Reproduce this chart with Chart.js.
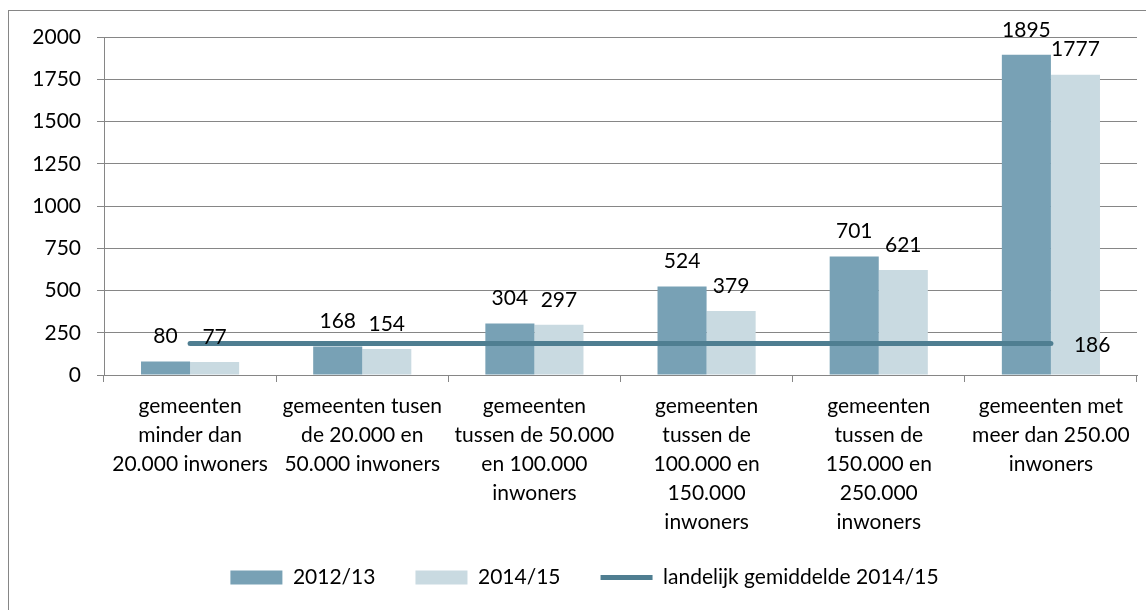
<!DOCTYPE html>
<html lang="nl">
<head>
<meta charset="utf-8">
<title>Gemeenten naar inwonertal</title>
<script src="https://cdn.jsdelivr.net/npm/chart.js@4/dist/chart.umd.min.js"></script>
<style>
  html, body { margin: 0; padding: 0; background: #fff; overflow: hidden; }
  #kader {
    position: absolute; left: 8px; top: 10px;
    width: 1200px; height: 700px;
    border: 1px solid #868686;
  }
  #grafiek { position: absolute; left: 0; top: 0; }
</style>
</head>
<body>
<div id="kader"></div>
<canvas id="grafiek" width="1146" height="610"></canvas>
<script>
// Gegevens
const categorieen = [
    ['gemeenten', 'minder dan', '20.000 inwoners'],
    ['gemeenten tusen', 'de 20.000 en', '50.000 inwoners'],
    ['gemeenten', 'tussen de 50.000', 'en 100.000', 'inwoners'],
    ['gemeenten', 'tussen de', '100.000 en', '150.000', 'inwoners'],
    ['gemeenten', 'tussen de', '150.000 en', '250.000', 'inwoners'],
    ['gemeenten met', 'meer dan 250.00', 'inwoners']
];
const waarden2012 = [80, 168, 304, 524, 701, 1895];
const waarden2014 = [77, 154, 297, 379, 621, 1777];
const landelijkGemiddelde = [186, 186, 186, 186, 186, 186];

const kleurDonker = '#78A1B5';
const kleurLicht = '#C9DAE1';
const kleurLijn = '#4F7E91';
const rasterKleur = '#868686';

Chart.defaults.font.family = 'Lato, "Liberation Sans", sans-serif';
Chart.defaults.font.size = 21;
Chart.defaults.color = '#000';

// Labels boven de staven en rechts van de lijn
const waardeLabels = {
    id: 'waardeLabels',
    afterDatasetsDraw(chart) {
        const ctx = chart.ctx;
        ctx.save();
        ctx.font = '21px Lato, "Liberation Sans", sans-serif';
        ctx.fillStyle = '#000';
        ctx.textBaseline = 'middle';
        chart.data.datasets.forEach((ds, i) => {
            const meta = chart.getDatasetMeta(i);
            if (ds.type === 'line') {
                const laatste = meta.data[meta.data.length - 1];
                ctx.textAlign = 'left';
                ctx.fillText(ds.data[ds.data.length - 1], laatste.x + 23, laatste.y + 2);
            } else {
                ctx.textAlign = 'center';
                meta.data.forEach((el, j) => {
                    ctx.fillText(ds.data[j], el.x, el.y - 25);
                });
            }
        });
        ctx.restore();
    }
};

// Legenda iets omhoog en naar rechts schuiven, zoals in het origineel
const legendaPositie = {
    id: 'legendaPositie',
    afterLayout(chart) {
        const lg = chart.legend;
        lg.top -= 12;
        lg.bottom -= 12;
        lg.left += 16;
        lg.right += 16;
    }
};

const ctx = document.getElementById('grafiek').getContext('2d');
new Chart(ctx, {
    type: 'bar',
    data: {
        labels: categorieen,
        datasets: [
            {
                label: '2012/13',
                data: waarden2012,
                backgroundColor: kleurDonker,
                borderWidth: 0,
                order: 1
            },
            {
                label: '2014/15',
                data: waarden2014,
                backgroundColor: kleurLicht,
                borderWidth: 0,
                order: 1
            },
            {
                type: 'line',
                label: 'landelijk gemiddelde 2014/15',
                data: landelijkGemiddelde,
                borderColor: kleurLijn,
                backgroundColor: kleurLijn,
                borderWidth: 5,
                borderCapStyle: 'round',
                pointRadius: 0,
                pointHoverRadius: 0,
                fill: false,
                order: 0
            }
        ]
    },
    options: {
        responsive: false,
        animation: false,
        datasets: {
            bar: { categoryPercentage: 0.57, barPercentage: 1 }
        },
        layout: {
            padding: { top: 37, right: 9, bottom: 0, left: 0 }
        },
        scales: {
            x: {
                grid: {
                    drawOnChartArea: false,
                    tickLength: 7,
                    color: rasterKleur
                },
                border: { color: rasterKleur },
                ticks: {
                    autoSkip: false,
                    maxRotation: 0,
                    padding: 10,
                    font: { size: 21, lineHeight: '29px' }
                },
                afterFit: scale => { scale.height = 164; }
            },
            y: {
                min: 0,
                max: 2000,
                ticks: {
                    stepSize: 250,
                    padding: 16,
                    callback: v => String(v)
                },
                grid: { color: rasterKleur, tickLength: 7 },
                border: { color: rasterKleur },
                afterFit: scale => { scale.width = 104; }
            }
        },
        plugins: {
            legend: {
                position: 'bottom',
                labels: {
                    usePointStyle: true,
                    pointStyleWidth: 52,
                    boxHeight: 14,
                    padding: 40,
                    sort: (a, b) => a.datasetIndex - b.datasetIndex,
                    generateLabels: chart => {
                        const items = Chart.defaults.plugins.legend.labels.generateLabels(chart);
                        items.forEach(it => {
                            it.pointStyle = chart.data.datasets[it.datasetIndex].type === 'line' ? 'line' : 'rect';
                        });
                        return items;
                    }
                }
            },
            tooltip: { enabled: false }
        }
    },
    plugins: [waardeLabels, legendaPositie]
});
</script>
</body>
</html>
